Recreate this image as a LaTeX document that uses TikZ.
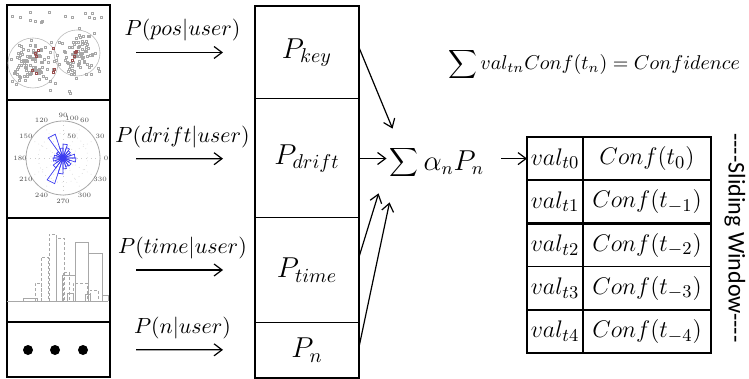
\documentclass[tikz,border=0pt]{standalone}
\usepackage{fontspec}
\usepackage{tikz}
\usetikzlibrary{arrows.meta,positioning,calc}
\newfontfamily\slidefont{Carlito}
\definecolor{plotgray}{HTML}{A8A8A8}
\definecolor{roseblue}{HTML}{3C3CF0}
\definecolor{dotred}{HTML}{9A5050}

\begin{document}
\begin{tikzpicture}[
  x=0.5pt, y=-0.5pt,
  imgcell/.style={rectangle, draw=black, line width=1pt, minimum width=51.5pt, inner sep=0pt, outer sep=0pt},
  cell/.style={rectangle, draw=black, line width=0.5pt, minimum width=52pt, inner sep=0pt, outer sep=0pt, font=\fontsize{14}{16}\selectfont},
  valcell/.style={rectangle, draw=black, line width=0.8pt, minimum width=28pt, minimum height=21.6pt, inner sep=0pt, outer sep=0pt, font=\fontsize{13}{15}\selectfont},
  confcell/.style={valcell, minimum width=64pt},
  border/.style={draw=black, line width=1.3pt},
  flowarrow/.style={-{Straight Barb[length=4pt,width=6pt]}, line width=0.6pt},
  problabel/.style={above, yshift=2pt, font=\fontsize{11}{13}\selectfont},
  sumnode/.style={inner sep=1.5pt, font=\fontsize{13.5}{15}\selectfont},
  scatterpt/.style={draw=plotgray, line width=0.2pt},
  polargrid/.style={draw=plotgray!60, dotted, line width=0.3pt},
  hbar/.style={draw=plotgray, line width=0.3pt},
  degnum/.style={font=\fontsize{3.3}{4}\selectfont, text=black!70, inner sep=0pt}
]
  \useasboundingbox (0,0) rectangle (749,379);

  % Column 1: input plots
  \node[imgcell, minimum height=47.5pt, anchor=north] (posplot) at (58.5,5) {};
  \node[imgcell, minimum height=59pt, below=0pt of posplot] (driftplot) {};
  \node[imgcell, minimum height=52pt, below=0pt of driftplot] (timeplot) {};
  \node[imgcell, minimum height=27.5pt, below=0pt of timeplot] (nplot) {};
  \draw[border] (posplot.north west) rectangle (nplot.south east);

  % scatter of positions
  \pgfmathsetseed{42}
  \draw[plotgray!80, line width=0.3pt] (33,63) circle (25);
  \draw[plotgray!80, line width=0.3pt] (77,53) circle (23);
  \foreach \i in {1,...,90}{
    \pgfmathsetmacro\px{33+12*(rand+rand)}
    \pgfmathsetmacro\py{63+11*(rand+rand)}
    \draw[scatterpt] (\px,\py) rectangle ++(2,2);
  }
  \foreach \i in {1,...,70}{
    \pgfmathsetmacro\px{77+11*(rand+rand)}
    \pgfmathsetmacro\py{53+11*(rand+rand)}
    \draw[scatterpt] (\px,\py) rectangle ++(2,2);
  }
  \foreach \i in {1,...,45}{
    \pgfmathsetmacro\px{10+92*rnd}
    \pgfmathsetmacro\py{10+85*rnd}
    \draw[scatterpt] (\px,\py) rectangle ++(2,2);
  }
  \foreach \i in {1,...,12}{
    \pgfmathsetmacro\px{55+25*rand}
    \pgfmathsetmacro\py{58+15*rand}
    \draw[scatterpt, draw=dotred] (\px,\py) rectangle ++(2,2);
  }

  % rose plot of drift
  \begin{scope}[shift={(63,158)}, yscale=-1]
    \draw[plotgray, line width=0.4pt] (0,0) circle (37);
    \foreach \r in {12.3,24.7} \draw[polargrid] (0,0) circle (\r);
    \foreach \a in {0,30,...,330}{
      \draw[polargrid] (0,0) -- (\a:37);
      \node[degnum] (deg\a) at (\a:43) {\a};
    }
    \node[degnum] (rad50) at (68:23) {50};
    \node[degnum] (rad100) at (77:41) {100};
    \foreach \a/\l in {9/12, 27/8, 45/9, 63/11, 81/14, 99/10, 117/25, 135/8, 153/7, 171/9,
                       189/10, 207/8, 225/12, 243/27, 261/16, 279/11, 297/9, 315/10, 333/7, 351/13}
      \draw[roseblue, line width=0.35pt] (0,0) -- (\a-9:\l) -- (\a+9:\l) -- cycle;
    \fill[roseblue] (0,0) circle (1.5);
  \end{scope}

  % histogram of times
  \draw[hbar] (7,301) -- (108,301);
  \foreach \xa/\xb/\yt in {35/41/283, 41/48/257, 49/56/234, 56/64/238, 63/69/272, 73/87/283, 90/98/290}
    \draw[hbar, dash pattern=on 1.5pt off 1pt] (\xa,301) |- (\xb,\yt) -- (\xb,301);
  \foreach \xa/\xb/\yt in {23/37/298, 62/75/275, 75/88/242, 88/102/253, 67/73/293, 85/90/294, 102/108/295}
    \draw[hbar] (\xa,301) |- (\xb,\yt) -- (\xb,301);

  % dots
  \foreach \dx in {28,55,83} \fill (\dx,350) circle (5);

  % Column 2: probabilities
  \node[cell, minimum height=46.5pt, anchor=north] (pkey) at (307,6) {$P_{key}$};
  \node[cell, minimum height=59.5pt, below=0pt of pkey] (pdrift) {$P_{drift}$};
  \node[cell, minimum height=52pt, below=0pt of pdrift] (ptime) {$P_{time}$};
  \node[cell, minimum height=28pt, below=0pt of ptime] (pn) {$P_n$};
  \draw[border] (pkey.north west) rectangle (pn.south east);

  % likelihood arrows
  \draw[flowarrow, shorten <=13pt, shorten >=16pt] (posplot) -- node[problabel] {$P(pos|user)$} (pkey);
  \draw[flowarrow, shorten <=13pt, shorten >=16pt] (driftplot) -- node[problabel] {$P(drift|user)$} (pdrift);
  \draw[flowarrow, shorten <=13pt, shorten >=16pt] (timeplot) -- node[problabel] {$P(time|user)$} (ptime);
  \draw[flowarrow, shorten <=13pt, shorten >=16pt] (nplot) -- node[problabel] {$P(n|user)$} (pn);

  % weighted sum
  \node[sumnode] (sum) at (437,163) {$\displaystyle\sum\alpha_nP_n$};
  \draw[flowarrow] ($(pkey.east)+(0,-5)$) -- ($(sum.north west)+(6,-15)$);
  \draw[flowarrow] (pdrift.east) -- (pdrift.east -| sum.west);
  \draw[flowarrow] ($(ptime.east)+(0,-13)$) -- ($(sum.south west)+(-8,11)$);
  \draw[flowarrow] ($(pn.east)+(0,-3)$) -- ($(sum.south west)+(3,20)$);

  \node[font=\fontsize{10.3}{12}\selectfont, anchor=east] (confsum) at (747,65) {$\displaystyle\sum val_{tn}Conf(t_n)=Confidence$};

  % Sliding window table
  \foreach \i/\s in {0/0, 1/{-1}, 2/{-2}, 3/{-3}, 4/{-4}}{
    \node[valcell] (val\i) at (555,158.6+43.2*\i) {$val_{t\i}$};
    \node[confcell, right=0pt of val\i] (conf\i) {$Conf(t_{\s})$};
  }
  \draw[border] (val0.north west) rectangle (conf4.south east);
  \draw[border] (val1.south west) -- (conf1.south east);
  \draw[border] (val3.south west) -- (conf3.south east);
  \draw[flowarrow, shorten <=7pt] (sum.east |- val0) -- (val0.west);

  \node[rotate=-90, font=\slidefont\fontsize{12}{14}\selectfont] (slide) at (735,238) {----Sliding Window----};
\end{tikzpicture}
\end{document}
